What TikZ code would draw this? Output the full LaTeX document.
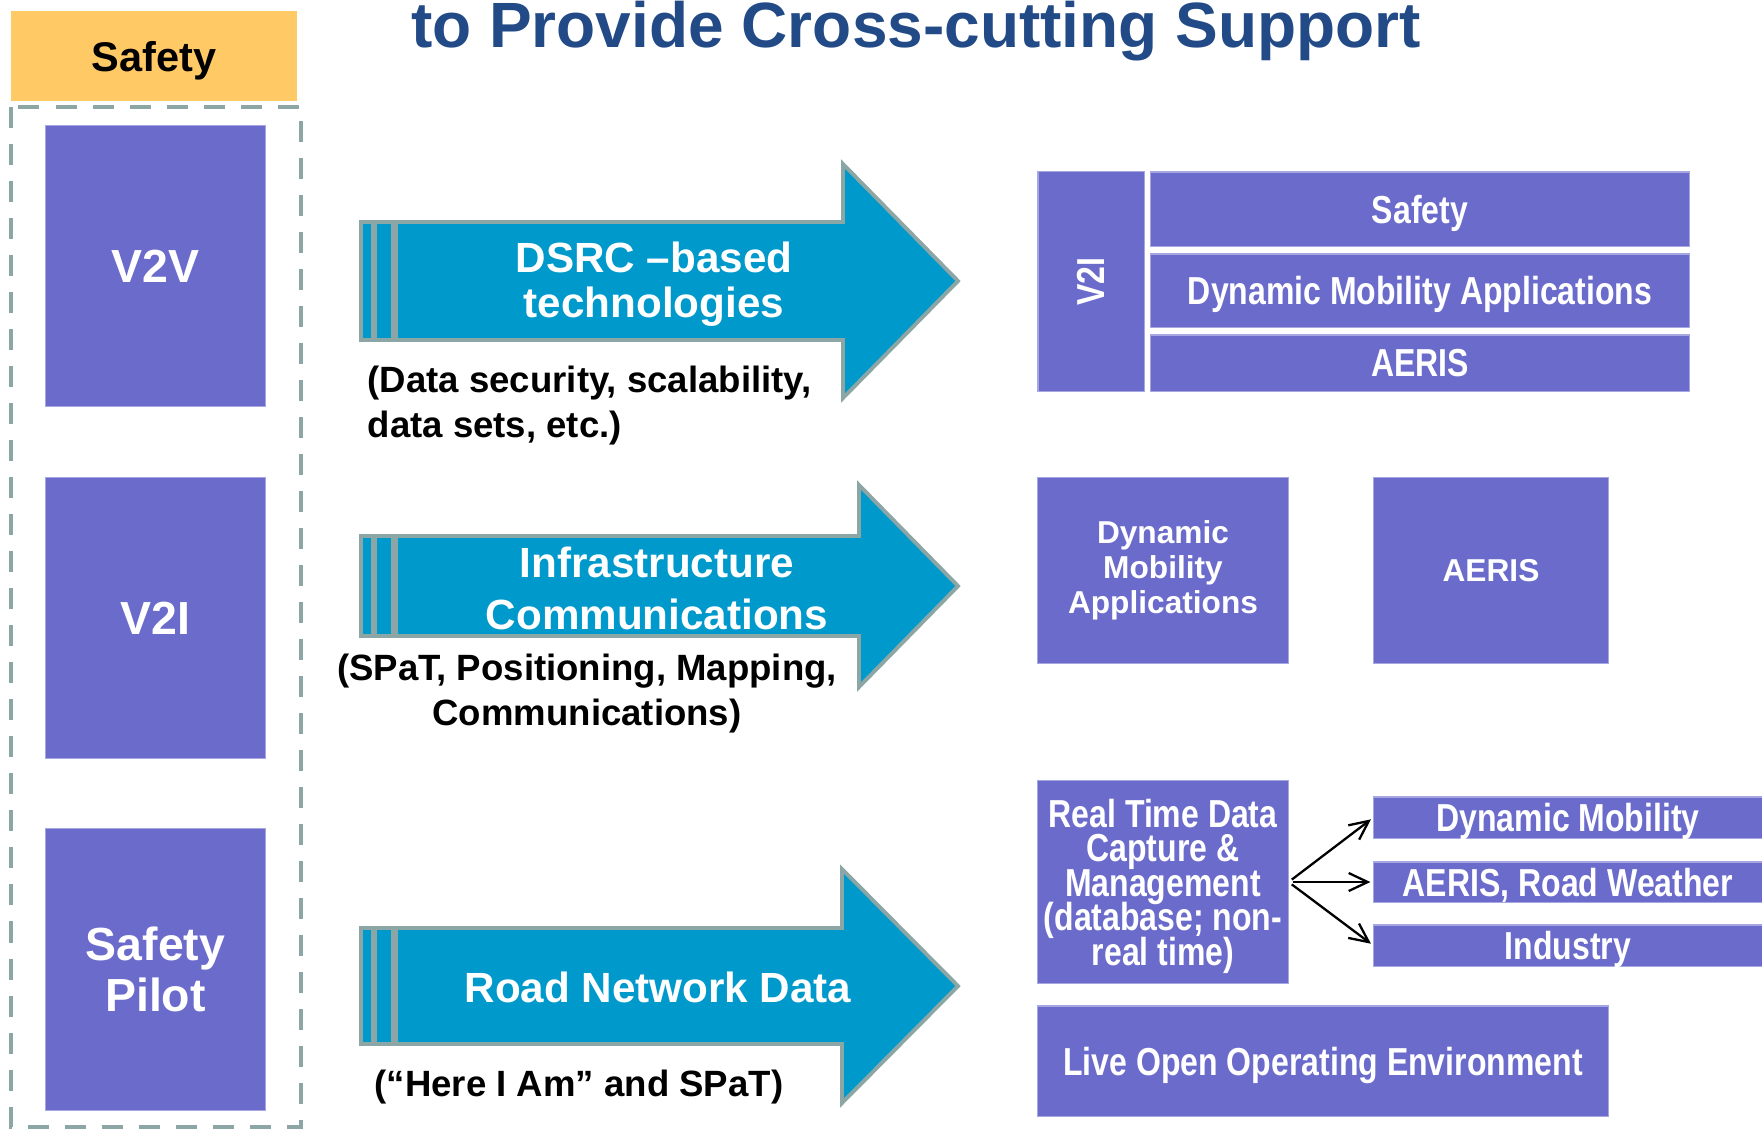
\documentclass[tikz,border=0pt]{standalone}
\usepackage{fontspec}
\setmainfont{Liberation Sans}
\newfontfamily\narrowfont[FakeStretch=0.82]{Liberation Sans}
\usetikzlibrary{arrows.meta}

\definecolor{boxpurple}{RGB}{107,107,204}
\definecolor{arrowblue}{RGB}{0,153,204}
\definecolor{arrowgray}{RGB}{140,165,165}
\definecolor{hdryellow}{RGB}{255,201,102}
\definecolor{titleblue}{RGB}{33,74,135}

\tikzset{
	titletext/.style={text=titleblue,font=\fontsize{18.2}{20}\selectfont\bfseries,inner sep=0pt},
	hdrbox/.style={fill=hdryellow,inner sep=0pt,text depth=0pt,font=\fontsize{11.8}{13}\selectfont\bfseries},
	frame/.style={draw=arrowgray,line width=1.1pt,dash pattern=on 2.1mm off 1.6mm},
	bigbox/.style={fill=boxpurple,draw=boxpurple!60!white,line width=0.3pt,text=white,align=center,inner sep=0pt,
		text depth=0pt,minimum width=2.19cm,minimum height=2.81cm,font=\fontsize{13.2}{14.5}\selectfont\bfseries},
	rowbox/.style={fill=boxpurple,draw=boxpurple!60!white,line width=0.3pt,text=white,align=center,inner sep=0pt,
		text depth=0pt,font=\narrowfont\fontsize{11.1}{9.8}\selectfont\bfseries},
	midbox/.style={fill=boxpurple,draw=boxpurple!60!white,line width=0.3pt,text=white,align=center,inner sep=0pt,
		font=\fontsize{9}{10}\selectfont\bfseries},
	arrowbody/.style={fill=arrowblue,draw=arrowgray,line width=1.1pt},
	arrowtext/.style={text=white,align=center,inner sep=0pt,text depth=0pt,font=\fontsize{12}{12.8}\selectfont\bfseries},
	captext/.style={align=center,inner sep=0pt,text depth=0pt,font=\fontsize{10.4}{12.8}\selectfont\bfseries},
	link/.style={-{Straight Barb[length=1.9mm,width=1.8mm]},line width=0.65pt}
}

\begin{document}
\begin{tikzpicture}[x=0.01cm,y=-0.01cm]
	\lineskiplimit=-10pt\relax
	\useasboundingbox (0,0) rectangle (1762,1129);

	\node[titletext,anchor=base] (title) at (916,47) {to Provide Cross-cutting Support};

	% left column
	\node[hdrbox,minimum width=2.86cm,minimum height=0.9cm] (safetyhdr) at (154,56) {Safety};
	\draw[frame] (11,107) rectangle (301,1127);
	\node[bigbox] (v2v) at (155.5,266) {V2V};
	\node[bigbox] (v2i) at (155.5,618) {V2I};
	\node[bigbox] (pilot) at (155.5,969.5) {Safety\\Pilot};

	% block arrows
	\foreach \yc/\sh/\hh/\hb in {281/59/117/843, 586/50/101/859, 986/58/117/842} {
		\draw[arrowbody] (361,\yc-\sh) rectangle (373,\yc+\sh);
		\draw[arrowbody] (375,\yc-\sh) rectangle (393,\yc+\sh);
		\draw[arrowbody] (396,\yc-\sh) -- (\hb,\yc-\sh) -- (\hb,\yc-\hh) -- (958,\yc)
			-- (\hb,\yc+\hh) -- (\hb,\yc+\sh) -- (396,\yc+\sh) -- cycle;
	}
	\node[arrowtext] (dsrc) at (654,280) {DSRC --based\\technologies};
	\node[arrowtext,font=\fontsize{12}{14.8}\selectfont\bfseries] (infra) at (657,588) {Infrastructure\\Communications};
	\node[arrowtext] (road) at (658,987) {Road Network Data};

	\node[captext,anchor=west,align=left] (cap1) at (367,402) {(Data security, scalability,\\data sets, etc.)};
	\node[captext] (cap2) at (587,690) {(SPaT, Positioning, Mapping,\\Communications)};
	\node[captext] (cap3) at (579,1083) {(“Here I Am” and SPaT)};

	% V2I stack
	\node[rowbox,minimum width=1.06cm,minimum height=2.19cm] (v2iside) at (1091,281.5) {\rotatebox{90}{V2I}};
	\node[rowbox,minimum width=5.38cm,minimum height=0.74cm] (rsafety) at (1420,209) {Safety};
	\node[rowbox,minimum width=5.38cm,minimum height=0.73cm] (rdma) at (1420,290.5) {Dynamic Mobility Applications};
	\node[rowbox,minimum width=5.38cm,minimum height=0.56cm] (raeris) at (1420,363) {AERIS};

	\node[midbox,minimum width=2.5cm,minimum height=1.85cm] (dma) at (1163,570.5) {Dynamic\\Mobility\\Applications};
	\node[midbox,minimum width=2.34cm,minimum height=1.85cm] (aeris) at (1491,570.5) {AERIS};

	% real time data
	\node[rowbox,minimum width=2.5cm,minimum height=2.02cm] (rtd) at (1163,882) {Real Time Data\\Capture \&\\Management\\(database; non-\\real time)};
	\node[rowbox,minimum width=3.88cm,minimum height=0.41cm] (dm) at (1568,817.5) {Dynamic Mobility};
	\node[rowbox,minimum width=3.88cm,minimum height=0.40cm] (arw) at (1568,882) {AERIS, Road Weather};
	\node[rowbox,minimum width=3.88cm,minimum height=0.41cm] (ind) at (1568,945.5) {Industry};
	\foreach \t in {dm,arw,ind}
		\draw[link,shorten <=0.04cm,shorten >=0.03cm] (rtd.east) -- (\t.west);

	\node[rowbox,minimum width=5.7cm,minimum height=1.1cm] (live) at (1323,1061) {Live Open Operating Environment};
\end{tikzpicture}
\end{document}
